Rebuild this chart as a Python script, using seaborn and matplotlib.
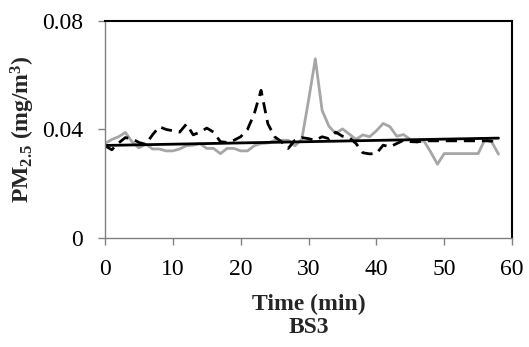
import numpy as np
import pandas as pd
import matplotlib
matplotlib.use("Agg")
import matplotlib.pyplot as plt
import seaborn as sns

# ---- data ----
time_min = list(range(0, 59))
pm_grey = [0.0348, 0.0363, 0.0373, 0.0389, 0.0354, 0.0332, 0.0346, 0.0328, 0.0328, 0.0321,
           0.0321, 0.0328, 0.0340, 0.0342, 0.0348, 0.0330, 0.0330, 0.0311, 0.0330, 0.0330,
           0.0321, 0.0321, 0.0340, 0.0348, 0.0350, 0.0360, 0.0360, 0.0360, 0.0340, 0.0363,
           0.0507, 0.0660, 0.0470, 0.0412, 0.0385, 0.0402, 0.0383, 0.0363, 0.0380, 0.0373,
           0.0395, 0.0422, 0.0410, 0.0375, 0.0381, 0.0363, 0.0354, 0.0358, 0.0317, 0.0272,
           0.0311, 0.0311, 0.0311, 0.0311, 0.0311, 0.0311, 0.0363, 0.0354, 0.0309]
pm_dashed = [0.0340, 0.0325, 0.0350, 0.0370, 0.0365, 0.0352, 0.0345, 0.0380, 0.0410, 0.0400,
             0.0395, 0.0390, 0.0420, 0.0380, 0.0390, 0.0405, 0.0390, 0.0355, 0.0352, 0.0360,
             0.0373, 0.0400, 0.0458, 0.0544, 0.0421, 0.0373, 0.0355, 0.0330, 0.0360, 0.0370,
             0.0366, 0.0360, 0.0373, 0.0366, 0.0390, 0.0375, 0.0370, 0.0348, 0.0314, 0.0310,
             0.0311, 0.0342, 0.0336, 0.0348, 0.0360, 0.0355, 0.0354, 0.0358, 0.0358, 0.0358,
             0.0358, 0.0358, 0.0358, 0.0358, 0.0358, 0.0358, 0.0358, 0.0357, 0.0340]
trend_time = [0, 58]
trend_pm = [0.0341, 0.0368]
x_ticks = [0, 10, 20, 30, 40, 50, 60]
y_ticks = [0, 0.04, 0.08]
y_tick_labels = ["0", "0.04", "0.08"]

# ---- style ----
sns.set_theme(style="white")
plt.rcParams["font.family"] = ["Liberation Serif", "DejaVu Serif"]
plt.rcParams["mathtext.fontset"] = "custom"
plt.rcParams["mathtext.rm"] = "Liberation Serif:bold"
plt.rcParams["mathtext.it"] = "Liberation Serif:bold"
plt.rcParams["mathtext.bf"] = "Liberation Serif:bold"
plt.rcParams["mathtext.default"] = "rm"

FS = 17

fig = plt.figure(figsize=(5.29, 3.47), dpi=100)
ax = fig.add_axes([0.1985, 0.314, 0.7695, 0.626])

df_grey = pd.DataFrame({"t": time_min, "pm": pm_grey})
df_dash = pd.DataFrame({"t": time_min, "pm": pm_dashed})
df_trend = pd.DataFrame({"t": trend_time, "pm": trend_pm})

sns.lineplot(data=df_grey, x="t", y="pm", ax=ax, color="#a6a6a6", linewidth=2.0)
sns.lineplot(data=df_dash, x="t", y="pm", ax=ax, color="black", linewidth=2.0)
ax.lines[-1].set_dashes([4, 2.5])
sns.lineplot(data=df_trend, x="t", y="pm", ax=ax, color="black", linewidth=2.0)

ax.set_xlim(0, 60)
ax.set_ylim(0, 0.08)
ax.set_xticks(x_ticks)
ax.set_yticks(y_ticks)
ax.set_yticklabels(y_tick_labels)

for s in ["left", "bottom"]:
    ax.spines[s].set_color("#808080")
    ax.spines[s].set_linewidth(1.0)
for s in ["top", "right"]:
    ax.spines[s].set_color("black")
    ax.spines[s].set_linewidth(1.5)

ax.tick_params(axis="both", which="major", direction="out", length=5, width=1,
               color="#808080", labelsize=FS, labelcolor="black")
ax.tick_params(axis="x", bottom=True, pad=10)
ax.tick_params(axis="y", left=True, pad=11)

ax.set_xlabel("Time (min)\nBS3", fontsize=FS, fontweight="bold", labelpad=10,
              linespacing=1.15)
ax.set_ylabel(r"PM$_{2.5}$ (mg/m$^3$)", fontsize=FS, fontweight="bold", labelpad=3)

fig.savefig("out.png", dpi=100)
